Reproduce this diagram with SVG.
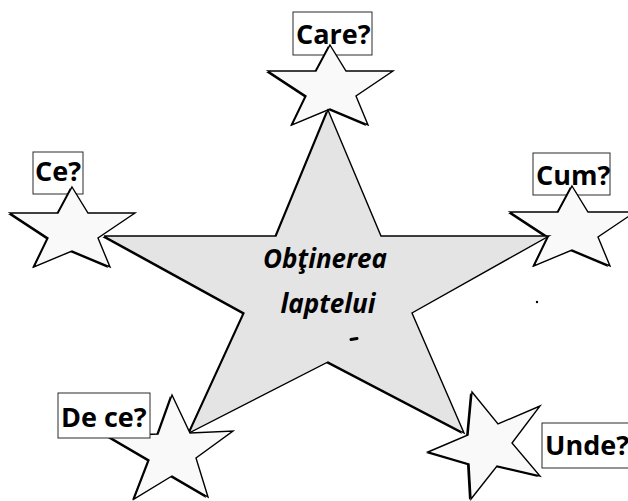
<svg xmlns="http://www.w3.org/2000/svg" width="628" height="501" viewBox="0 0 628 501">
<style>
.bg{fill:#ffffff}
.star{stroke:#000;stroke-width:1.4;stroke-linejoin:miter}
.small{fill:#f9f9f9}
.big{fill:#e4e4e4}
.shadow{fill:#000}
.box{fill:#ffffff;stroke:#2a2a2a;stroke-width:1}
.lbl{font-family:"Open Sans","Liberation Sans",sans-serif;font-weight:bold;font-size:27px;fill:#000}
.ctr{font-family:"Open Sans","Liberation Sans",sans-serif;font-weight:bold;font-style:italic;font-size:26px;fill:#000;text-anchor:middle}
</style>
<rect class="bg" x="0" y="0" width="628" height="501"/>

<g id="node-care">
  <rect class="box" x="293" y="12" width="79" height="43"/>
  <polygon class="shadow" transform="translate(-2,1)" points="330,45 346,71 393,71 356,96 368,125 330,109 292,125 306,96 268,71 316,71"/>
  <polygon class="star small" points="330,45 346,71 393,71 356,96 368,125 330,109 292,125 306,96 268,71 316,71"/>
  <text class="lbl" x="296" y="44">Care?</text>
</g>

<g id="node-ce">
  <rect class="box" x="33" y="152" width="50" height="42"/>
  <polygon class="shadow" transform="translate(-2,1)" points="72,187 88,213 135,213 98,238 110,267 72,251 34,267 48,238 10,213 58,213"/>
  <polygon class="star small" points="72,187 88,213 135,213 98,238 110,267 72,251 34,267 48,238 10,213 58,213"/>
  <text class="lbl" x="35" y="181">Ce?</text>
</g>

<g id="node-cum">
  <rect class="box" x="533" y="153" width="77" height="42"/>
  <polygon class="shadow" transform="translate(-2,1)" points="572,186 588,212 635,212 598,237 610,266 572,250 534,266 548,237 510,212 558,212"/>
  <polygon class="star small" points="572,186 588,212 635,212 598,237 610,266 572,250 534,266 548,237 510,212 558,212"/>
  <text class="lbl" x="536" y="185">Cum?</text>
</g>

<g id="node-main">
  <polygon class="shadow" transform="translate(-2,1)" points="328,110 381,236 549,236 412,313 464,433 328,362 189,433 244,313 104,236 276,236"/>
  <polygon class="star big" points="328,110 381,236 549,236 412,313 464,433 328,362 189,433 244,313 104,236 276,236"/>
  <text class="ctr" x="325" y="268">Obţinerea</text>
  <text class="ctr" x="328" y="313">laptelui</text>
  <line x1="351" y1="339.5" x2="357" y2="338.5" stroke="#000" stroke-width="3" stroke-linecap="round"/>
</g>

<g id="node-dece">
  <polygon class="shadow" transform="translate(-2,1)" points="172,395 190,433 233,431 196,458 208,497 172,476 134,499 149,460 108,436 158,434"/>
  <polygon class="star small" points="172,395 190,433 233,431 196,458 208,497 172,476 134,499 149,460 108,436 158,434"/>
  <rect class="box" x="58" y="393" width="92" height="45"/>
  <text class="lbl" x="61" y="427">De ce?</text>
</g>

<g id="node-unde">
  <polygon class="shadow" transform="translate(-2,1)" points="472,392 498,424 540,406 512,443 540,476 497,466 471,499 469,464 428,452 468,435"/>
  <polygon class="star small" points="472,392 498,424 540,406 512,443 540,476 497,466 471,499 469,464 428,452 468,435"/>
  <rect class="box" x="542" y="423" width="90" height="45"/>
  <text class="lbl" x="545" y="455">Unde?</text>
</g>

<circle cx="537" cy="302" r="1.2" fill="#000"/>
</svg>
